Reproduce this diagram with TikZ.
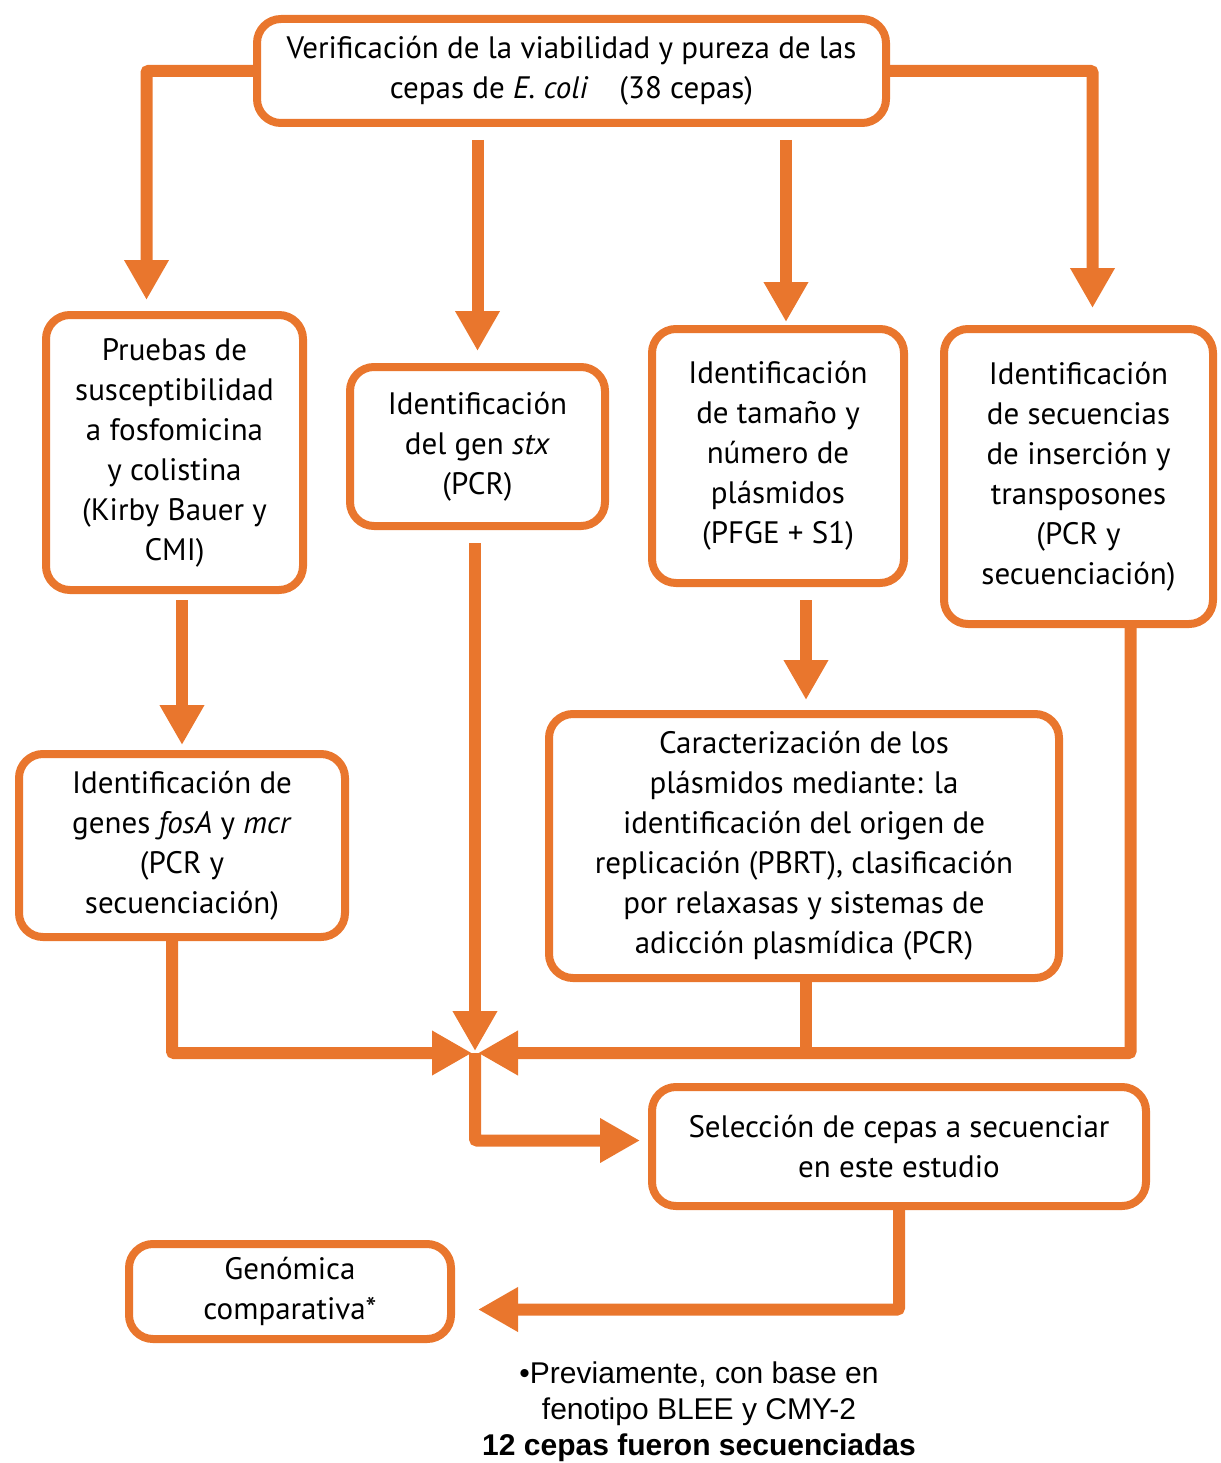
\documentclass[tikz,border=0pt]{standalone}
\usepackage{fontspec}
\setmainfont{PT Sans}
\newfontfamily\arialfont{Liberation Sans}
\usetikzlibrary{arrows.meta,shadows,calc}
\definecolor{orng}{RGB}{233,118,45}
\tikzset{
  box/.style={draw=orng, line width=8pt, rounded corners=24pt, fill=white, align=center,
    font=\fontsize{31}{40}\selectfont, inner sep=0pt,
    drop shadow={shadow xshift=2pt, shadow yshift=-3pt, fill=black!40, opacity=0.5}},
  arr/.style={draw=orng, line width=12pt, rounded corners=2pt, -{Triangle[width=42pt,length=40pt]}},
  ln/.style={draw=orng, line width=12pt, rounded corners=2pt}
}
\begin{document}
\begin{tikzpicture}[x=1pt,y=-1pt]
\useasboundingbox (0,0) rectangle (1220,1463);
\node[box, minimum width=629pt, minimum height=104pt] (top) at (571.5,71)
  {Verificación de la viabilidad y pureza de las\\cepas de \textit{E. coli}\quad (38 cepas)};
\node[box, minimum width=257pt, minimum height=275pt] (b1) at (174.5,452.5)
  {Pruebas de\\susceptibilidad\\a fosfomicina\\y colistina\\(Kirby Bauer y\\CMI)};
\node[box, minimum width=255pt, minimum height=159pt] (b2) at (477.5,446.5)
  {Identificación\\del gen \textit{stx}\\(PCR)};
\node[box, minimum width=252pt, minimum height=254pt] (b3) at (778,456)
  {Identificación\\de tamaño y\\número de\\plásmidos\\(PFGE + S1)};
\node[box, minimum width=269pt, minimum height=295pt] (b4) at (1078.5,476.5)
  {Identificación\\de secuencias\\de inserción y\\transposones\\(PCR y\\secuenciación)};
\node[box, minimum width=326pt, minimum height=183pt] (b5) at (182,845.5)
  {Identificación de\\genes \textit{fosA} y \textit{mcr}\\(PCR y\\secuenciación)};
\node[box, minimum width=510pt, minimum height=264pt] (b6) at (804,846)
  {Caracterización de los\\plásmidos mediante: la\\identificación del origen de\\replicación (PBRT), clasificación\\por relaxasas y sistemas de\\adicción plasmídica (PCR)};
\node[box, minimum width=494pt, minimum height=119pt] (b7) at (899,1146.5)
  {Selección de cepas a secuenciar\\en este estudio};
\node[box, minimum width=322pt, minimum height=95pt] (b8) at (290,1291.5)
  {Genómica\\comparativa*};
\node[align=center, font=\arialfont\fontsize{30}{36}\selectfont] (note) at (699,1412)
  {•Previamente, con base en\\fenotipo BLEE y CMY-2\\\textbf{12 cepas fueron secuenciadas}};
\coordinate (J) at (475,1053);
% from top box
\draw[arr, shorten >=11pt] (top.west) -| ([xshift=-28pt]b1.north);
\draw[arr, shorten <=13pt, shorten >=12pt] (top.south -| b2.north) -- (b2.north);
\draw[arr, shorten <=13pt, shorten >=3pt] ([xshift=8pt]top.south -| b3.north) -- ([xshift=8pt]b3.north);
\draw[arr, shorten >=17pt] (top.east) -| ([xshift=14pt]b4.north);
% second level
\draw[arr, shorten <=6pt, shorten >=5pt] (b5.north |- b1.south) -- (b5.north);
\draw[arr, shorten <=13pt, shorten >=10pt] ([xshift=2pt]b6.north |- b3.south) -- ([xshift=2pt]b6.north);
% to junction
\draw[arr, shorten <=13pt, shorten >=2pt] (J |- b2.south) -- (J);
\draw[arr, shorten >=3pt] ([xshift=-10pt]b5.south) |- (J);
\draw[arr, shorten >=3pt] ([xshift=52pt]b4.south) |- (J);
\draw[ln] ([xshift=2pt]b6.south) -- ([xshift=2pt]b6.south |- J);
% onward
\draw[arr, shorten >=8pt] (J) |- ([yshift=6pt]b7.west);
\draw[arr, shorten >=23pt] (b7.south) |- ([yshift=-18pt]b8.east);
\end{tikzpicture}
\end{document}
